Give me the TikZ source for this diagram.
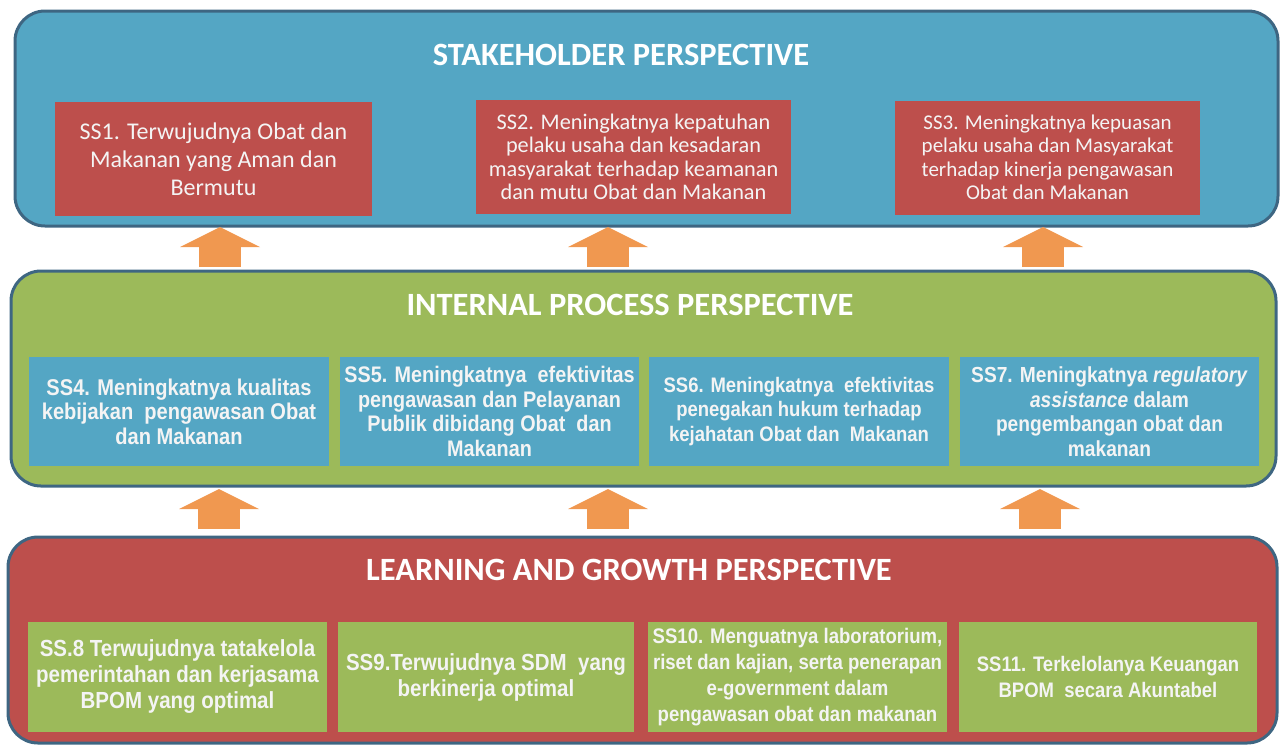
\documentclass[tikz,border=0pt]{standalone}
\usepackage{fontspec}
\setmainfont{Carlito}
\newfontfamily\narrowfont[FakeStretch=0.88]{Liberation Sans}
\usetikzlibrary{arrows.meta}
\definecolor{stakeblue}{RGB}{84,166,196}
\definecolor{edgeblue}{RGB}{62,102,130}
\definecolor{boxred}{RGB}{189,79,76}
\definecolor{boxgreen}{RGB}{156,186,90}
\definecolor{liftorange}{RGB}{240,152,80}
\definecolor{boxtext}{RGB}{244,244,244}

\begin{document}
\begin{tikzpicture}[x=1pt,y=-1pt,
    panel/.style={draw=edgeblue,line width=3pt,rounded corners=30pt,inner sep=0pt,outer sep=0pt},
    heading/.style={text=white,font=\bfseries\fontsize{32.5}{38}\selectfont},
    sbox/.style={fill=boxred,text=boxtext,align=center,inner sep=0pt,
      minimum height=114pt,font=\fontsize{#1}{23.5}\selectfont},
    sbox/.default=21.5,
    pbox/.style={fill=stakeblue,text=boxtext,align=center,inner sep=0pt,
      minimum height=109pt,font=\narrowfont\bfseries\fontsize{#1}{24.5}\selectfont},
    pbox/.default=22,
    lbox/.style={fill=boxgreen,text=boxtext,align=center,inner sep=0pt,
      minimum height=110pt,font=\narrowfont\bfseries\fontsize{#1}{26}\selectfont},
    lbox/.default=22,
    lift/.style={draw=liftorange,line width=42pt,
      -{Triangle[width=80pt,length=20pt,line width=0pt]}}]
  \useasboundingbox (0,0) rectangle (1281,745);
  % the three perspectives
  \node[panel,fill=stakeblue,minimum width=1263pt,minimum height=215pt] (stake) at (646.5,118.5) {};
  \node[panel,fill=boxgreen,minimum width=1265pt,minimum height=215pt] (intern) at (643.5,378.5) {};
  \node[panel,fill=boxred,minimum width=1269pt,minimum height=206pt] (learn) at (642.5,640) {};
  \node[heading] (t1) at (621,55) {STAKEHOLDER PERSPECTIVE};
  \node[heading] (t2) at (630,305) {INTERNAL PROCESS PERSPECTIVE};
  \node[heading] (t3) at (629,570) {LEARNING AND GROWTH PERSPECTIVE};
  % stakeholder
  \node[sbox,minimum width=317pt,font=\fontsize{24}{28}\selectfont] (ss1) at (213.5,159)
    {SS1. Terwujudnya Obat dan\\Makanan yang Aman dan\\Bermutu};
  \node[sbox=22.3,minimum width=315pt] (ss2) at (633.5,157)
    {SS2. Meningkatnya kepatuhan\\pelaku usaha dan kesadaran\\masyarakat terhadap keamanan\\dan mutu Obat dan Makanan};
  \node[sbox=21,minimum width=305pt] (ss3) at (1047.5,157.5)
    {SS3. Meningkatnya kepuasan\\pelaku usaha dan Masyarakat\\terhadap kinerja pengawasan\\Obat dan Makanan};
  % internal process
  \node[pbox=22.8,minimum width=300pt] (ss4) at (179,411.5)
    {SS4. Meningkatnya kualitas\\kebijakan\ \ pengawasan Obat\\dan Makanan};
  \node[pbox=22.5,minimum width=299pt] (ss5) at (489.5,411.5)
    {SS5. Meningkatnya\ \ efektivitas\\pengawasan dan Pelayanan\\Publik dibidang Obat\ \ dan\\Makanan};
  \node[pbox=21,minimum width=300pt] (ss6) at (799,411.5)
    {SS6. Meningkatnya\ \ efektivitas\\penegakan hukum terhadap\\kejahatan Obat dan\ \ Makanan};
  \node[pbox=21.8,minimum width=299pt] (ss7) at (1109.5,411.5)
    {SS7. Meningkatnya \textit{regulatory}\\\textit{assistance} dalam\\pengembangan obat dan\\makanan};
  % learning and growth
  \node[lbox=23.3,minimum width=299pt] (ss8) at (177.5,677)
    {SS.8 Terwujudnya tatakelola\\pemerintahan dan kerjasama\\BPOM yang optimal};
  \node[lbox=23.3,minimum width=296pt] (ss9) at (486,677)
    {SS9.Terwujudnya SDM\ \ yang\\berkinerja optimal};
  \node[lbox=21.1,minimum width=299pt] (ss10) at (797.5,677)
    {SS10. Menguatnya laboratorium,\\riset dan kajian, serta penerapan\\e-government dalam\\pengawasan obat dan makanan};
  \node[lbox=21,minimum width=298pt] (ss11) at (1108,677)
    {SS11. Terkelolanya Keuangan\\BPOM\ \ secara Akuntabel};
  % arrows between perspectives
  \foreach \ax [count=\i] in {220,608,1043} {
    \coordinate (a\i) at (\ax,0);
    \draw[lift,shorten <=4pt,shorten >=1pt] (intern.north -| a\i) -- (stake.south -| a\i);
  }
  \foreach \ax [count=\i] in {219,608,1040} {
    \coordinate (b\i) at (\ax,0);
    \draw[lift,shorten <=8pt,shorten >=3pt] (learn.north -| b\i) -- (intern.south -| b\i);
  }
\end{tikzpicture}
\end{document}
